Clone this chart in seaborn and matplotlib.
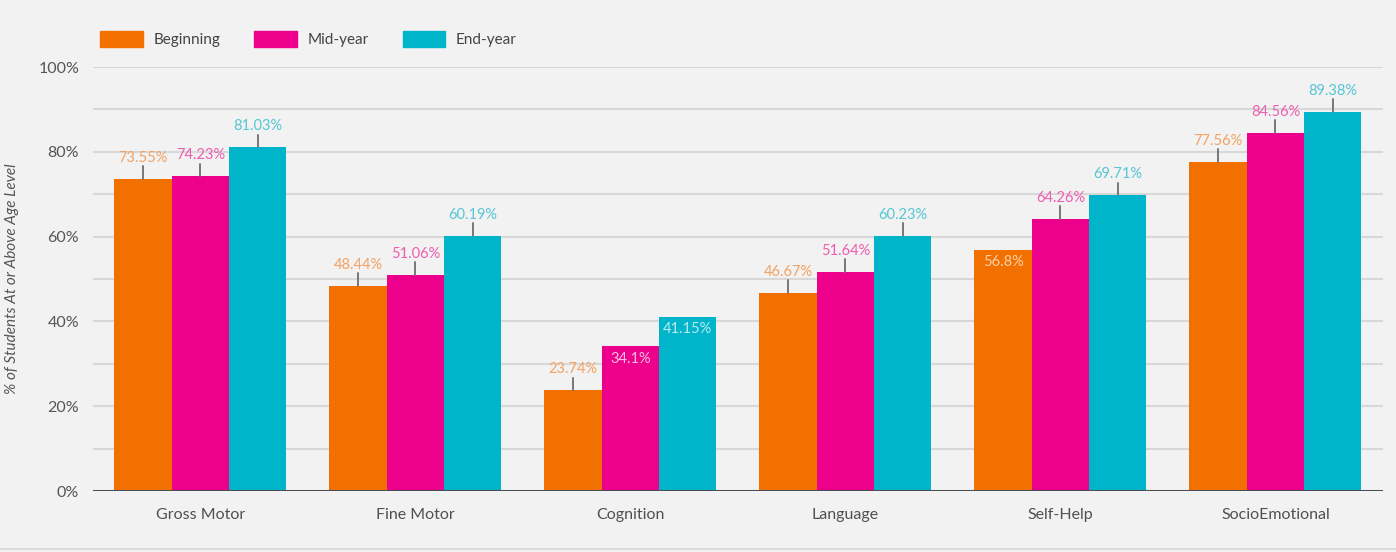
import numpy as np
import pandas as pd
import matplotlib
matplotlib.use("Agg")
import matplotlib.pyplot as plt
import seaborn as sns
from matplotlib.lines import Line2D

categories = ["Gross Motor", "Fine Motor", "Cognition", "Language", "Self-Help", "SocioEmotional"]
series = ["Beginning", "Mid-year", "End-year"]
beginning = [73.55, 48.44, 23.74, 46.67, 56.8, 77.56]
mid_year = [74.23, 51.06, 34.1, 51.64, 64.26, 84.56]
end_year = [81.03, 60.19, 41.15, 60.23, 69.71, 89.38]
# error bar half-lengths (upper only); nan = none drawn
err_beginning = [3.0, 3.0, 3.0, 3.0, np.nan, 3.0]
err_mid = [3.0, 3.0, np.nan, 3.0, 3.0, 3.0]
err_end = [3.0, 3.0, np.nan, 3.0, 3.0, 3.0]
label_labels = [[f"{v:g}%" for v in s] for s in (beginning, mid_year, end_year)]
yticks = [0, 20, 40, 60, 80, 100]
ytick_labels = ["0%", "20%", "40%", "60%", "80%", "100%"]
ylabel = "% of Students At or Above Age Level"

colors = ["#F27000", "#EC008C", "#00B5C9"]
label_colors = ["#F4A262", "#EE5DB0", "#55C6D6"]
inside_colors = ["#FBD0AA", "#F9BEDD", "#BDEBF1"]

sns.set_theme(style="white")
plt.rcParams["font.family"] = ["Lato", "DejaVu Sans"]

df = pd.DataFrame({
    "category": categories * 3,
    "series": sum([[s] * len(categories) for s in series], []),
    "value": beginning + mid_year + end_year,
})

fig = plt.figure(figsize=(13.96, 5.52), dpi=100, facecolor="#F2F2F2")
ax = fig.add_axes([0.0666, 0.1105, 0.924, 0.768])
ax.set_facecolor("#F2F2F2")

sns.barplot(data=df, x="category", y="value", hue="series", order=categories,
            hue_order=series, palette=colors, width=0.8, saturation=1,
            ax=ax, legend=False, linewidth=0, zorder=2)

ax.set_ylim(0, 100)
ax.set_xlim(-0.5, len(categories) - 0.5)
for y in range(10, 101, 10):
    ax.axhline(y, color="#D8D8D8", lw=1.5, zorder=1)
ax.axhline(0, color="#4A4F55", lw=2.2, zorder=3)

for s in ax.spines.values():
    s.set_visible(False)

ax.set_yticks(yticks)
ax.set_yticklabels(ytick_labels, fontsize=11.5, color="#555555")
ax.tick_params(axis="y", length=0, pad=10)
ax.tick_params(axis="x", length=0, pad=12, labelsize=11.5, labelcolor="#505050")
ax.set_xlabel("")
ax.set_ylabel(ylabel, fontsize=11, color="#555555", style="italic", labelpad=14)

vals = [beginning, mid_year, end_year]
errs = [err_beginning, err_mid, err_end]
bars = [p for p in ax.patches if p.get_height() > 0]
# patches are ordered by hue then category
for si in range(3):
    for ci in range(len(categories)):
        p = bars[si * len(categories) + ci]
        xc = p.get_x() + p.get_width() / 2
        v = vals[si][ci]
        e = errs[si][ci]
        txt = label_labels[si][ci]
        if np.isnan(e):
            ax.text(xc, v - 1.2, txt, ha="center", va="top", fontsize=10.5,
                    color=inside_colors[si], zorder=5)
        else:
            ax.plot([xc, xc], [v, v + e], color="#777777", lw=1.4, zorder=4)
            ax.text(xc, v + e + 0.3, txt, ha="center", va="bottom", fontsize=10.5,
                    color=label_colors[si], zorder=5)

handles = [plt.Rectangle((0, 0), 1, 1, color=c) for c in colors]
fig.legend(handles, series, loc="upper left", bbox_to_anchor=(0.062, 0.968),
           ncol=3, frameon=False, fontsize=11, handlelength=2.8, handleheight=1.2,
           columnspacing=2.2, handletextpad=0.7, labelcolor="#444444")

fig.add_artist(Line2D([0, 1], [0.006, 0.006], color="#DDDDDD", lw=1.5))

fig.savefig("out.png", dpi=100, facecolor=fig.get_facecolor())
